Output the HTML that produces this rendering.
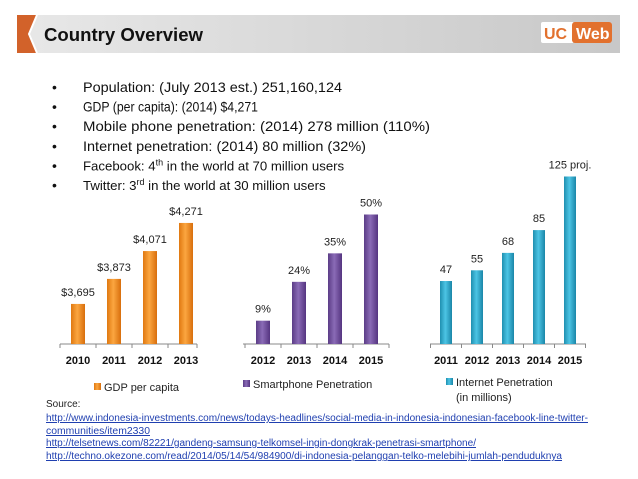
<!DOCTYPE html>
<html><head><meta charset="utf-8"><style>
html,body{margin:0;padding:0;background:#fff;}
svg{display:block;font-family:"Liberation Sans",sans-serif;}
</style></head><body>
<svg id="s" width="638" height="479" viewBox="0 0 638 479" xmlns="http://www.w3.org/2000/svg">
<defs>
<linearGradient id="hdr" x1="0" x2="1" y1="0" y2="0"><stop offset="0" stop-color="#e8e8e8"/><stop offset="1" stop-color="#c8c8c8"/></linearGradient>
<linearGradient id="gOr" x1="0" x2="1"><stop offset="0" stop-color="#e07810"/><stop offset="0.45" stop-color="#fba640"/><stop offset="1" stop-color="#d86e0c"/></linearGradient>
<linearGradient id="gPu" x1="0" x2="1"><stop offset="0" stop-color="#5b3c86"/><stop offset="0.45" stop-color="#8a6bb6"/><stop offset="1" stop-color="#553480"/></linearGradient>
<linearGradient id="gCy" x1="0" x2="1"><stop offset="0" stop-color="#1f8fb0"/><stop offset="0.45" stop-color="#4cc4e4"/><stop offset="1" stop-color="#1a86a8"/></linearGradient>
</defs>
<g>
<rect x="17" y="15" width="603" height="38" fill="url(#hdr)"/>
<path d="M17 15 H37 L29 34 L37 53 H17 Z" fill="#d2622a"/>
<path d="M37 15 L29 34 L37 53" fill="none" stroke="#fff" stroke-width="2"/>
<text x="44" y="41" font-size="18" font-weight="bold" fill="#111" textLength="159" lengthAdjust="spacingAndGlyphs">Country Overview</text>
<g>
<rect x="541" y="22" width="33" height="21" fill="#fff" rx="2"/>
<text x="544" y="39" font-size="16" font-weight="bold" fill="#e2712e">UC</text>
<rect x="572" y="22" width="40" height="21" fill="#e2712e" rx="3"/>
<text x="576" y="39" font-size="16" font-weight="bold" fill="#fff">Web</text>
</g>
</g>
<g id="bullets"></g>
<g id="charts"></g>
<g font-size="10">
<text x="46" y="407" fill="#222">Source:</text>
<text x="46" y="421" fill="#1f3fb0" text-decoration="underline" textLength="542" lengthAdjust="spacingAndGlyphs">http://www.indonesia-investments.com/news/todays-headlines/social-media-in-indonesia-indonesian-facebook-line-twitter-</text>
<text x="46" y="434" fill="#1f3fb0" text-decoration="underline" textLength="104" lengthAdjust="spacingAndGlyphs">communities/item2330</text>
<text x="46" y="446" fill="#1f3fb0" text-decoration="underline" textLength="430" lengthAdjust="spacingAndGlyphs">http://telsetnews.com/82221/gandeng-samsung-telkomsel-ingin-dongkrak-penetrasi-smartphone/</text>
<text x="46" y="459" fill="#1f3fb0" text-decoration="underline" textLength="516" lengthAdjust="spacingAndGlyphs">http://techno.okezone.com/read/2014/05/14/54/984900/di-indonesia-pelanggan-telko-melebihi-jumlah-penduduknya</text>
</g>
</svg>
<script>
const gdpYears=["2010","2011","2012","2013"];
const gdpValues=[3695,3873,4071,4271];
const gdpLabels=["$3,695","$3,873","$4,071","$4,271"];
const smYears=["2012","2013","2014","2015"];
const smValues=[9,24,35,50];
const smLabels=["9%","24%","35%","50%"];
const netYears=["2011","2012","2013","2014","2015"];
const netValues=[47,55,68,85,125];
const netLabels=["47","55","68","85","125 proj."];

const NS="http://www.w3.org/2000/svg";
function el(tag,attrs,parent){const e=document.createElementNS(NS,tag);for(const k in attrs)e.setAttribute(k,attrs[k]);parent.appendChild(e);return e;}

const bl=document.getElementById('bullets');
const bulletText=[["Population: (July 2013 est.) 251,160,124"],["GDP (per capita): (2014) $4,271"],["Mobile phone penetration: (2014) 278 million (110%)"],["Internet penetration: (2014) 80 million (32%)"],["Facebook: 4","th"," in the world at 70 million users"],["Twitter: 3","rd"," in the world at 30 million users"]];
const bulletW=[259,175,347,283,291,275];
bulletText.forEach((b,i)=>{
  const y=92+i*19.6;
  const d=el('text',{x:52,y:y,'font-size':14,fill:'#111'},bl);d.textContent='•';
  const t=el('text',{x:83,y:y,'font-size':14,fill:'#111'},bl);
  
  
  if(b.length===1){t.textContent=b[0];t.setAttribute('textLength',bulletW[i]);t.setAttribute('lengthAdjust','spacingAndGlyphs');}
  else{
    t.setAttribute('font-size',13.2);
    const a=el('tspan',{},t);a.textContent=b[0];
    const s=el('tspan',{dy:-5,'font-size':9},t);s.textContent=b[1];
    const c=el('tspan',{dy:5},t);c.textContent=b[2];
  }
});

const ch=document.getElementById('charts');
function chart(name,years,vals,labels,x0,x1,centers0,step,baseVal,pxPer,fill,bw,legend,lx,ly){
  const g=el('g',{},ch);
  
  
  const axisY=344;
  const yScale=v=>axisY-(v-baseVal)*pxPer;
  const xScale=i=>centers0+i*step;
  el('line',{x1:x0,x2:x1,y1:axisY,y2:axisY,stroke:'#888','stroke-width':1},g);
  for(let i=0;i<=years.length;i++){const tx=Math.min(xScale(i)-step/2,x1);el('line',{x1:tx,x2:tx,y1:axisY,y2:axisY+4,stroke:'#888'},g);}
  vals.forEach((v,i)=>{
    const cx=xScale(i),top=yScale(v);
    const r=el('rect',{x:cx-bw/2,y:top,width:bw,height:axisY-top,fill:fill},g);
    
    
    const lt=el('text',{x:cx,y:top-8,'font-size':11,fill:'#222','text-anchor':'middle'},g);
    
    
    lt.textContent=labels[i];
    const yt=el('text',{x:cx,y:axisY+20,'font-size':11,'font-weight':'bold',fill:'#111','text-anchor':'middle'},g);
    
    
    yt.textContent=years[i];
  });
  const lg=el('g',{},g);
  
  
  el('rect',{x:lx,y:ly-8,width:7,height:7,fill:fill},lg);
  legend.forEach((t,k)=>{const tt=el('text',{x:lx+10,y:ly+k*15,'font-size':11,fill:'#222'},lg);tt.textContent=t;});
}
chart('gdp-chart',gdpYears,gdpValues,gdpLabels,60,197,78,36,3410,0.1406,'url(#gOr)',14,['GDP per capita'],94,391);
chart('smartphone-chart',smYears,smValues,smLabels,243,389,263,36,0,2.59,'url(#gPu)',14,['Smartphone Penetration'],243,388);
chart('internet-chart',netYears,netValues,netLabels,430,586,446,31,0,1.34,'url(#gCy)',12,['Internet Penetration','(in millions)'],446,386);
</script>
</body></html>
